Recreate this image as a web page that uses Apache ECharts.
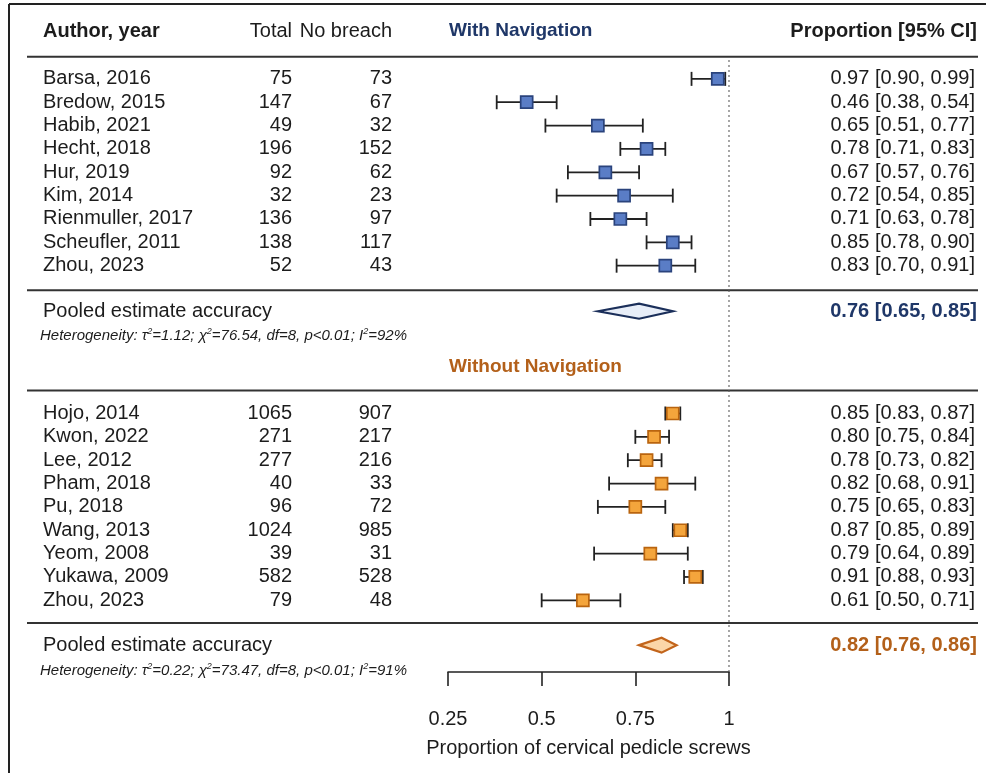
<!DOCTYPE html>
<html>
<head>
<meta charset="utf-8">
<script src="https://cdn.jsdelivr.net/npm/echarts@6/dist/echarts.min.js"></script>
<style>
  html, body { margin: 0; padding: 0; background: #fff; }
  #chart { width: 986px; height: 773px; }
</style>
</head>
<body>
<div id="chart"></div>
<script>
// ---- Data: studies with navigation ----
const authorsNav = ['Barsa, 2016', 'Bredow, 2015', 'Habib, 2021', 'Hecht, 2018', 'Hur, 2019',
  'Kim, 2014', 'Rienmuller, 2017', 'Scheufler, 2011', 'Zhou, 2023'];
const totalNav = [75, 147, 49, 196, 92, 32, 136, 138, 52];
const noBreachNav = [73, 67, 32, 152, 62, 23, 97, 117, 43];
const estNav = [0.97, 0.46, 0.65, 0.78, 0.67, 0.72, 0.71, 0.85, 0.83];
const lowNav = [0.90, 0.38, 0.51, 0.71, 0.57, 0.54, 0.63, 0.78, 0.70];
const highNav = [0.99, 0.54, 0.77, 0.83, 0.76, 0.85, 0.78, 0.90, 0.91];
const pooledNav = [0.76, 0.65, 0.85];           // estimate, lower, upper
const hetNav = ['1.12', '76.54', '8', '<0.01', '92'];  // tau², chi², df, p, I²

// ---- Data: studies without navigation ----
const authorsFree = ['Hojo, 2014', 'Kwon, 2022', 'Lee, 2012', 'Pham, 2018', 'Pu, 2018',
  'Wang, 2013', 'Yeom, 2008', 'Yukawa, 2009', 'Zhou, 2023'];
const totalFree = [1065, 271, 277, 40, 96, 1024, 39, 582, 79];
const noBreachFree = [907, 217, 216, 33, 72, 985, 31, 528, 48];
const estFree = [0.85, 0.80, 0.78, 0.82, 0.75, 0.87, 0.79, 0.91, 0.61];
const lowFree = [0.83, 0.75, 0.73, 0.68, 0.65, 0.85, 0.64, 0.88, 0.50];
const highFree = [0.87, 0.84, 0.82, 0.91, 0.83, 0.89, 0.89, 0.93, 0.71];
const pooledFree = [0.82, 0.76, 0.86];
const hetFree = ['0.22', '73.47', '8', '<0.01', '91'];

// ---- Axis ----
const axisMin = 0.25, axisMax = 1, axisStep = 0.25;
const axisTitle = 'Proportion of cervical pedicle screws';

// ---- Styling ----
const FONT = '"Liberation Sans", Arial, Helvetica, sans-serif';
const INK = '#1c1c1c';
const NAVY = '#1f3768';
const RUST = '#b3601a';
const groups = [
  { title: 'With Navigation', color: NAVY, fill: '#5a7dc6', edge: '#2a437c', dFill: '#e8eef8', dEdge: '#1b2f5a' },
  { title: 'Without Navigation', color: RUST, fill: '#f4a53c', edge: '#b9640f', dFill: '#fbd6a8', dEdge: '#c2641b' }
];

// Row layout (in row units, top to bottom)
const L = {
  header: 0, rule0: 1.1, start1: 2.05, rule1: 11.1, pooled1: 12, het1: 13.05,
  title2: 14.4, rule2: 15.4, start2: 16.38, rule3: 25.35, pooled2: 26.3, het2: 27.4,
  refTop: 1.25, bottom: 27.45
};
const COL = { author: 43, total: 292, noBreach: 392, ci: 975, ruleL: 27, ruleR: 978, het: 40, title: 449 };

const fmt = v => v.toFixed(2);
const ciText = (e, l, h) => fmt(e) + ' [' + fmt(l) + ', ' + fmt(h) + ']';

// Study rows: [estimate, lower, upper, row, group, index]
const studyData = [];
estNav.forEach((e, i) => studyData.push([e, lowNav[i], highNav[i], L.start1 + i, 0, i]));
estFree.forEach((e, i) => studyData.push([e, lowFree[i], highFree[i], L.start2 + i, 1, i]));
const tables = [
  { authors: authorsNav, total: totalNav, nb: noBreachNav },
  { authors: authorsFree, total: totalFree, nb: noBreachFree }
];

const pooledData = [
  [pooledNav[0], pooledNav[1], pooledNav[2], L.pooled1, 0],
  [pooledFree[0], pooledFree[1], pooledFree[2], L.pooled2, 1]
];

function txt(x, y, text, opt) {
  opt = opt || {};
  const align = opt.align || 'left';
  return {
    type: 'text', x: x, y: y, silent: true,
    style: {
      text: text,
      fill: opt.color || INK,
      fontSize: opt.size || 20,
      fontWeight: opt.weight || 'normal',
      fontStyle: opt.style || 'normal',
      fontFamily: FONT,
      align: align, textAlign: align,
      verticalAlign: 'middle', textVerticalAlign: 'middle',
      rich: opt.rich
    }
  };
}

function hetText(h) {
  return '{i|Heterogeneity: τ}{s|2}{i|=' + h[0] + '; χ}{s|2}{i|=' + h[1] + ', df=' + h[2] +
    ', p' + h[3] + '; I}{s|2}{i|=' + h[4] + '%}';
}
const hetRich = {
  i: { fontSize: 15, fontStyle: 'italic', fontFamily: FONT, fill: INK, color: INK, lineHeight: 18 },
  s: { fontSize: 9, fontStyle: 'italic', fontFamily: FONT, fill: INK, color: INK, verticalAlign: 'top', lineHeight: 18, padding: [0, 0, 6, 0] }
};

function rule(api, row) {
  const y = api.coord([axisMin, row])[1];
  return { type: 'line', silent: true, shape: { x1: COL.ruleL, y1: y, x2: COL.ruleR, y2: y },
    style: { stroke: '#333', lineWidth: 2 } };
}

// Headers, rules, section titles, heterogeneity lines and the reference line at 1
function renderFrame(params, api) {
  const yOf = r => api.coord([axisMin, r])[1];
  const refTop = api.coord([1, L.refTop]);
  const refBot = api.coord([1, L.bottom]);
  return {
    type: 'group',
    children: [
      txt(COL.author, yOf(L.header), 'Author, year', { weight: 'bold' }),
      txt(COL.total, yOf(L.header), 'Total', { align: 'right' }),
      txt(COL.noBreach, yOf(L.header), 'No breach', { align: 'right' }),
      txt(COL.title, yOf(L.header), groups[0].title, { weight: 'bold', size: 19, color: groups[0].color }),
      txt(COL.ci + 2, yOf(L.header), 'Proportion [95% CI]', { weight: 'bold', align: 'right' }),
      rule(api, L.rule0), rule(api, L.rule1), rule(api, L.rule2), rule(api, L.rule3),
      txt(COL.het, yOf(L.het1), hetText(hetNav), { rich: hetRich }),
      txt(COL.het, yOf(L.het2), hetText(hetFree), { rich: hetRich }),
      txt(COL.title, yOf(L.title2), groups[1].title, { weight: 'bold', size: 19, color: groups[1].color }),
      { type: 'line', silent: true, shape: { x1: refTop[0], y1: refTop[1], x2: refBot[0], y2: refBot[1] },
        style: { stroke: '#555', lineWidth: 1.4, lineDash: [1.5, 3.5] } }
    ]
  };
}

function renderStudy(params, api) {
  const est = api.value(0), lo = api.value(1), hi = api.value(2), row = api.value(3);
  const g = api.value(4), idx = api.value(5);
  const gs = groups[g], tb = tables[g];
  const pc = api.coord([est, row]), pl = api.coord([lo, row]), ph = api.coord([hi, row]);
  const cap = 7, half = 6;
  const line = { stroke: '#222', lineWidth: 1.8 };
  return {
    type: 'group',
    children: [
      txt(COL.author, pc[1], tb.authors[idx]),
      txt(COL.total, pc[1], String(tb.total[idx]), { align: 'right' }),
      txt(COL.noBreach, pc[1], String(tb.nb[idx]), { align: 'right' }),
      txt(COL.ci, pc[1], ciText(est, lo, hi), { align: 'right' }),
      { type: 'line', shape: { x1: pl[0], y1: pl[1], x2: ph[0], y2: ph[1] }, style: line },
      { type: 'line', shape: { x1: pl[0], y1: pl[1] - cap, x2: pl[0], y2: pl[1] + cap }, style: line },
      { type: 'line', shape: { x1: ph[0], y1: ph[1] - cap, x2: ph[0], y2: ph[1] + cap }, style: line },
      { type: 'rect', shape: { x: pc[0] - half, y: pc[1] - half, width: half * 2, height: half * 2 },
        style: { fill: gs.fill, stroke: gs.edge, lineWidth: 1.7 } }
    ]
  };
}

function renderPooled(params, api) {
  const est = api.value(0), lo = api.value(1), hi = api.value(2), row = api.value(3), g = api.value(4);
  const gs = groups[g];
  const pc = api.coord([est, row]), pl = api.coord([lo, row]), ph = api.coord([hi, row]);
  const h = 7.5;
  return {
    type: 'group',
    children: [
      txt(COL.author, pc[1], 'Pooled estimate accuracy'),
      txt(COL.ci + 2, pc[1], ciText(est, lo, hi), { align: 'right', weight: 'bold', color: gs.color }),
      { type: 'polygon', shape: { points: [[pl[0], pc[1]], [pc[0], pc[1] - h], [ph[0], pc[1]], [pc[0], pc[1] + h]] },
        style: { fill: gs.dFill, stroke: gs.dEdge, lineWidth: 2.2, lineJoin: 'miter' } }
    ]
  };
}

const chart = echarts.init(document.getElementById('chart'), null, { renderer: 'canvas' });
chart.setOption({
  backgroundColor: '#fff',
  animation: false,
  grid: { left: 448, right: 257, top: 7.65, bottom: 101, containLabel: false },
  xAxis: {
    type: 'value', position: 'bottom', min: axisMin, max: axisMax, interval: axisStep,
    name: axisTitle, nameLocation: 'middle', nameGap: 66,
    nameTextStyle: { fontSize: 20, fontFamily: FONT, color: INK },
    splitLine: { show: false },
    axisLine: { show: true, onZero: false, lineStyle: { color: '#222', width: 1.6 } },
    axisTick: { show: true, inside: false, length: 14, lineStyle: { color: '#222', width: 1.6 } },
    axisLabel: { margin: 37, fontSize: 20, fontFamily: FONT, color: INK, formatter: v => String(+v.toFixed(2)) }
  },
  yAxis: { type: 'value', min: -1, max: L.bottom, inverse: true, show: false },
  graphic: [
    { type: 'line', silent: true, shape: { x1: 9, y1: 4, x2: 986, y2: 4 }, style: { stroke: '#222', lineWidth: 2 } },
    { type: 'line', silent: true, shape: { x1: 9, y1: 4, x2: 9, y2: 773 }, style: { stroke: '#222', lineWidth: 2 } }
  ],
  series: [
    { type: 'custom', name: 'frame', clip: false, renderItem: renderFrame, data: [[axisMin, 0]], silent: true },
    { type: 'custom', name: 'studies', clip: false, renderItem: renderStudy, data: studyData, silent: true },
    { type: 'custom', name: 'pooled', clip: false, renderItem: renderPooled, data: pooledData, silent: true }
  ]
});
</script>
</body>
</html>
